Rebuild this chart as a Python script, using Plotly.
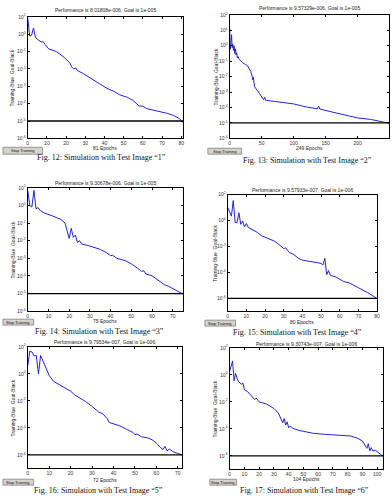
import plotly.graph_objects as go

W, H = 392, 501

# ---------------- data ----------------
ep1 = [0, 1, 2, 3, 4, 5, 7, 8, 9, 11, 15, 17, 19, 22, 23, 24, 25, 26, 29, 32, 35, 38, 41, 45, 48, 52,
       55, 58, 60, 62, 66, 69, 73, 76, 79, 81]
perf1 = [8.7, 0.79, 0.87, 2.3, 0.69, 0.51, 0.36, 0.37, 0.26, 0.14, 0.10, 0.071, 0.046, 0.022, 0.0126,
         0.010, 0.0112, 0.0079, 0.0054, 0.0033, 0.0021, 0.0012, 7.9e-4, 5.0e-4, 3.2e-4, 2.3e-4,
         1.5e-4, 7.4e-5, 7.1e-5, 5.2e-5, 4.2e-5, 3.3e-5, 2.7e-5, 2.1e-5, 1.4e-5, 8.02e-6]

ep2 = [0, 1, 2, 3, 4, 5, 6, 7, 8, 9, 10, 11, 12, 13, 15, 20, 25, 28, 30, 33, 35, 36, 37, 38, 39, 45,
       50, 53, 55, 56, 60, 80, 100, 120, 137, 139, 141, 160, 180, 200, 220, 240, 249]
perf2 = [14, 0.58, 1.5, 5.2, 0.74, 1.26, 0.5, 1.0, 0.32, 0.63, 0.25, 0.35, 0.16, 0.2, 0.13, 0.081,
         0.06, 0.05, 0.035, 0.022, 0.011, 0.0063, 0.0089, 0.0035, 0.0022, 1.0e-3, 4.7e-4, 3.2e-4,
         4.5e-4, 3.0e-4, 2.8e-4, 2.2e-4, 1.7e-4, 1.07e-4, 8.3e-5, 1.2e-4, 7.9e-5, 5.1e-5, 3.2e-5,
         2.1e-5, 1.7e-5, 1.2e-5, 9.57e-6]

ep3 = [0, 1, 2, 3, 4, 5, 6, 8, 12, 16, 18, 19, 20, 21, 22, 23, 24, 25, 26, 30, 35, 38, 40, 41, 43,
       47, 50, 53, 55, 56, 57, 60, 63, 66, 68, 71, 75]
perf3 = [7.1, 1.0, 0.81, 7.1, 0.66, 0.74, 0.52, 0.37, 0.25, 0.16, 0.10, 0.032, 0.0135, 0.05, 0.0155,
         0.021, 0.0079, 0.010, 0.0065, 0.005, 0.0032, 0.0021, 0.0014, 0.0015, 0.001, 7.4e-4,
         4.9e-4, 2.75e-4, 1.8e-4, 2.0e-4, 1.3e-4, 1.02e-4, 6.0e-5, 3.2e-5, 2.6e-5, 1.66e-5, 9.31e-6]

ep4 = [0, 1, 2, 3, 4, 5, 6, 7, 8, 9, 10, 11, 13, 16, 18, 20, 25, 28, 30, 31, 33, 35, 38, 40, 45, 50,
       51, 52, 53, 54, 55, 58, 62, 65, 70, 75, 80]
perf4 = [10.7, 4.0, 2.2, 35, 0.71, 0.71, 4.0, 0.52, 0.93, 0.33, 0.59, 0.30, 0.22, 0.12, 0.069, 0.052,
         0.026, 0.0123, 0.0068, 0.0079, 0.0034, 0.0026, 0.0012, 8.9e-4, 6.8e-4, 5.0e-4, 3.7e-4,
         1.2e-3, 6.6e-5, 1.4e-4, 5.9e-5, 4.4e-5, 2.0e-5, 1.55e-5, 6.5e-6, 2.7e-6, 9.58e-7]

ep5 = [0, 1, 2, 3, 4, 5, 6, 7, 8, 10, 12, 14, 16, 20, 22, 24, 25, 27, 30, 33, 35, 37, 38, 40, 43, 46,
       49, 50, 51, 53, 56, 58, 60, 62, 63, 64, 65, 66, 68, 70, 72]
perf5 = [4.0, 49, 41, 21, 23, 1.0, 23, 9.1, 4.0, 0.76, 0.28, 0.19, 0.12, 0.052, 0.027, 0.017, 0.0155,
         0.0089, 0.0039, 0.0015, 0.0011, 5.0e-4, 2.5e-4, 2.0e-4, 1.4e-4, 7.9e-5, 4.6e-5, 3.2e-5,
         3.5e-5, 2.2e-5, 1.8e-5, 1.3e-5, 7.4e-6, 3.4e-6, 2.5e-6, 4.3e-6, 1.95e-6, 2.7e-6, 1.66e-6,
         1.26e-6, 9.8e-7]

ep6 = [0, 1, 2, 3, 4, 5, 6, 8, 9, 10, 12, 14, 16, 17, 18, 20, 25, 30, 33, 35, 36, 37, 38, 39, 40, 41,
       43, 47, 52, 57, 65, 75, 82, 87, 90, 92, 93, 94, 95, 96, 97, 99, 101, 104]
perf6 = [1.8, 5.5, 10.7, 0.36, 1.3, 0.56, 0.32, 0.2, 0.25, 0.079, 0.059, 0.034, 0.021, 0.0145, 0.019,
         0.0098, 0.0069, 0.0032, 0.0015, 5.8e-4, 2.8e-4, 5.8e-4, 1.9e-4, 3.3e-4, 1.2e-4, 1.6e-4,
         1.07e-4, 7.6e-5, 6.0e-5, 4.6e-5, 3.9e-5, 3.5e-5, 2.95e-5, 1.95e-5, 1.26e-5, 5.4e-6, 3.6e-6,
         7.9e-6, 2.3e-6, 4.1e-6, 2.3e-6, 2.5e-6, 1.74e-6, 9.3e-7]

epochs_total = [81, 249, 75, 80, 72, 104]
goals = [1e-5, 1e-5, 1e-5, 1e-6, 1e-6, 1e-6]
perf_text = ["8.01808e-006", "9.57329e-006", "9.30678e-006", "9.57933e-007", "9.79534e-007", "9.30743e-007"]
goal_text = ["1e-005", "1e-005", "1e-005", "1e-006", "1e-006", "1e-006"]
captions = ["Fig. 12: Simulation with Test Image \u201c1\u201d", "Fig. 13: Simulation with Test Image \u201c2\u201d",
            "Fig. 14: Simulation with Test Image \u201c3\u201d", "Fig. 15: Simulation with Test Image \u201c4\u201d",
            "Fig. 16: Simulation with Test Image \u201c5\u201d", "Fig. 17: Simulation with Test Image \u201c6\u201d"]
x_tick_step = [10, 50, 10, 10, 10, 10]
y_range_exp = [(-6, 1), (-6, 2), (-6, 1), (-7, 2), (-7, 2), (-7, 2)]
y_tick_step = [1, 1, 1, 2, 2, 2]

series_x = [ep1, ep2, ep3, ep4, ep5, ep6]
series_y = [perf1, perf2, perf3, perf4, perf5, perf6]

# ---------------- layout geometry (pixels) ----------------
boxes = [(27, 184, 14, 137), (231, 392, 12, 137),
         (27, 184, 187, 312), (229, 380, 194, 312),
         (27, 183, 348, 471), (231, 386, 349, 472)]
title_y = [7, 5, 182, 189, 343, 345]
ylab_x = [11, 217, 12, 216, 12, 216]
xlab_y = [147, 147, 322, 323, 483, 482]
buttons = [(2, 42, 146, 153), (209, 243, 147, 153), (2, 33, 320, 326),
           (206, 237, 321, 327), (2, 33, 482, 488), (211, 238, 482, 488)]
cap_pos = [(102, 156), (310, 159), (100, 332), (300, 333), (98, 493), (307, 493)]


def fx(x):
    return x / W


def fy(y):
    return 1 - y / H


FONT = "Liberation Sans"
fig = go.Figure()
annotations = []
shapes = []
layout = {}

for i in range(6):
    n = i + 1
    xa = "x" if n == 1 else f"x{n}"
    ya = "y" if n == 1 else f"y{n}"
    xkey = "xaxis" if n == 1 else f"xaxis{n}"
    ykey = "yaxis" if n == 1 else f"yaxis{n}"
    L, R, T, B = boxes[i]

    fig.add_trace(go.Scatter(x=series_x[i], y=series_y[i], mode="lines",
                             line=dict(color="#2222d8", width=1), xaxis=xa, yaxis=ya,
                             showlegend=False, hoverinfo="skip"))
    fig.add_trace(go.Scatter(x=[0, epochs_total[i]], y=[goals[i], goals[i]], mode="lines",
                             line=dict(color="black", width=1.3), xaxis=xa, yaxis=ya,
                             showlegend=False, hoverinfo="skip"))

    lo, hi = y_range_exp[i]
    step = y_tick_step[i]
    exps = list(range(hi, lo - 1, -step))
    tv = [10.0 ** e for e in exps]
    tt = [f"10<sup>{e}</sup>" for e in exps]

    xt = list(range(0, epochs_total[i] + 1, x_tick_step[i]))
    layout[xkey] = dict(domain=[fx(L), fx(R)], anchor=ya, range=[0, epochs_total[i]],
                        showline=True, linecolor="black", linewidth=1, mirror="ticks",
                        ticks="inside", ticklen=2, tickcolor="black", tickwidth=0.8,
                        showgrid=False, zeroline=False, tickvals=xt,
                        tickfont=dict(family=FONT, size=5, color="#333"))
    layout[ykey] = dict(domain=[fy(B), fy(T)], anchor=xa, type="log", range=[lo, hi],
                        showline=True, linecolor="black", linewidth=1, mirror="ticks",
                        ticks="inside", ticklen=2, tickcolor="black", tickwidth=0.8,
                        showgrid=False, zeroline=False, tickvals=tv, ticktext=tt,
                        tickfont=dict(family=FONT, size=5, color="#333"))

    cx = (L + R) / 2
    annotations.append(dict(text=f"Performance is {perf_text[i]}, Goal is {goal_text[i]}",
                            x=fx(cx), y=fy(title_y[i]), xref="paper", yref="paper",
                            showarrow=False, xanchor="center", yanchor="middle",
                            font=dict(family=FONT, size=5, color="#222")))
    annotations.append(dict(text=f"{epochs_total[i]} Epochs", x=fx(cx), y=fy(xlab_y[i]),
                            xref="paper", yref="paper", showarrow=False,
                            xanchor="center", yanchor="middle",
                            font=dict(family=FONT, size=5, color="#222")))
    annotations.append(dict(text="Training-Blue  Goal-Black", x=fx(ylab_x[i]), y=fy((T + B) / 2),
                            xref="paper", yref="paper", showarrow=False, textangle=-90,
                            xanchor="center", yanchor="middle",
                            font=dict(family=FONT, size=5, color="#222")))
    bL, bR, bT, bB = buttons[i]
    shapes.append(dict(type="rect", xref="paper", yref="paper", x0=fx(bL), x1=fx(bR),
                       y0=fy(bB), y1=fy(bT), fillcolor="#d6d3ce",
                       line=dict(color="#808080", width=0.8)))
    annotations.append(dict(text="Stop Training", x=fx((bL + bR) / 2), y=fy((bT + bB) / 2),
                            xref="paper", yref="paper", showarrow=False,
                            xanchor="center", yanchor="middle",
                            font=dict(family=FONT, size=4, color="#111")))
    capx, capy = cap_pos[i]
    annotations.append(dict(text=captions[i], x=fx(capx), y=fy(capy), xref="paper", yref="paper",
                            showarrow=False, xanchor="center", yanchor="middle",
                            font=dict(family="Liberation Serif", size=8, color="#111")))

fig.update_layout(width=W, height=H, margin=dict(l=0, r=0, t=0, b=0),
                  paper_bgcolor="white", plot_bgcolor="white",
                  annotations=annotations, shapes=shapes, **layout)

fig.write_html("out.html")
